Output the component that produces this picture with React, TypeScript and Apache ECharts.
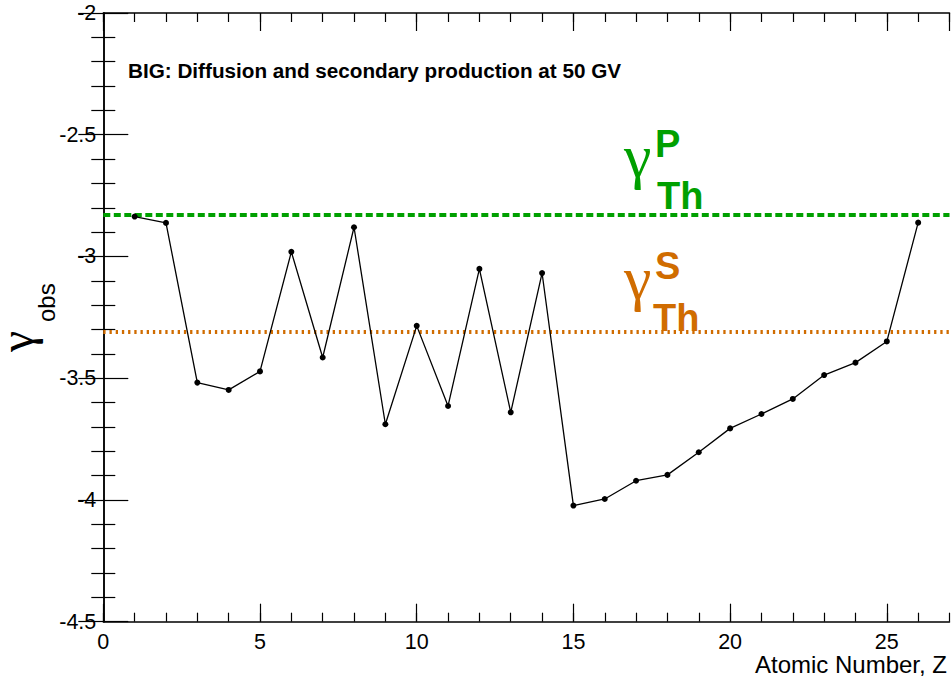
import React, { useEffect, useRef } from "react";
import * as echarts from "echarts";

const atomicNumbers = [1, 2, 3, 4, 5, 6, 7, 8, 9, 10, 11, 12, 13, 14, 15, 16, 17, 18, 19, 20, 21, 22, 23, 24, 25, 26];
const gammaObs = [
  -2.836, -2.862, -3.518, -3.548, -3.472, -2.981, -3.415, -2.88, -3.689, -3.285, -3.614, -3.051, -3.64,
  -3.068, -4.023, -3.996, -3.921, -3.897, -3.804, -3.706, -3.647, -3.585, -3.487, -3.436, -3.349, -2.861,
];
const gammaThP = -2.83;
const gammaThS = -3.31;
const xRange = [0, 27];
const yRange = [-4.5, -2];
const titleText = "BIG: Diffusion and secondary production at 50 GV";
const xAxisTitle = "Atomic Number, Z";
const pLabel = ["γ", "P", "Th"];
const sLabel = ["γ", "S", "Th"];
const yTitle = ["γ", "obs"];

const GREEN = "#00a000";
const ORANGE = "#d06c00";
const SANS = "'Liberation Sans', Arial, Helvetica, sans-serif";
const SERIF = "'Liberation Serif', 'Times New Roman', serif";

export default function App() {
  const ref = useRef<HTMLDivElement>(null);

  useEffect(() => {
    const chart = echarts.init(ref.current!, null, { renderer: "svg" });
    const axisLine = { show: true, lineStyle: { color: "#000", width: 1.5 } };
    const grid = { left: 103.3, top: 13, width: 846.2, height: 608.7, containLabel: false };

    const xBase = { type: "value" as const, min: xRange[0], max: xRange[1], splitLine: { show: false } };
    const yBase = { type: "value" as const, min: yRange[0], max: yRange[1], splitLine: { show: false } };
    const tickStyle = { color: "#000", width: 1.2 };

    const option = {
      animation: false,
      backgroundColor: "#fff",
      grid,
      xAxis: [
        {
          ...xBase,
          position: "bottom",
          interval: 5,
          axisLine,
          axisTick: { show: true, inside: true, length: 18, lineStyle: tickStyle },
          axisLabel: {
            show: true,
            showMaxLabel: false,
            margin: 9,
            color: "#000",
            fontFamily: SANS,
            fontSize: 21.5,
          },
        },
        {
          ...xBase,
          position: "bottom",
          offset: 0,
          interval: 1,
          axisLine: { show: false },
          axisTick: { show: true, inside: true, length: 9, lineStyle: tickStyle },
          axisLabel: { show: false },
        },
        {
          ...xBase,
          position: "top",
          offset: 0,
          interval: 5,
          axisLine,
          axisTick: { show: true, inside: true, length: 18, lineStyle: tickStyle },
          axisLabel: { show: false },
        },
        {
          ...xBase,
          position: "top",
          offset: 0,
          interval: 1,
          axisLine: { show: false },
          axisTick: { show: true, inside: true, length: 9, lineStyle: tickStyle },
          axisLabel: { show: false },
        },
      ],
      yAxis: [
        {
          ...yBase,
          position: "left",
          interval: 0.5,
          axisLine,
          axisTick: { show: true, inside: true, length: 25, lineStyle: tickStyle },
          minorTick: { show: true, splitNumber: 5, length: 12, lineStyle: tickStyle },
          axisLabel: {
            show: true,
            margin: 7,
            color: "#000",
            fontFamily: SANS,
            fontSize: 21.5,
          },
        },
        {
          ...yBase,
          position: "right",
          offset: 0,
          interval: 0.5,
          axisLine,
          axisTick: { show: true, inside: true, length: 25, lineStyle: tickStyle },
          minorTick: { show: true, splitNumber: 5, length: 12, lineStyle: tickStyle },
          axisLabel: { show: false },
        },
      ],
      series: [
        {
          type: "line",
          xAxisIndex: 0,
          yAxisIndex: 0,
          silent: true,
          symbol: "none",
          data: [
            [xRange[0], gammaThP],
            [xRange[1], gammaThP],
          ],
          lineStyle: { color: GREEN, width: 4, type: [7, 3.5] },
          z: 2,
        },
        {
          type: "line",
          xAxisIndex: 0,
          yAxisIndex: 0,
          silent: true,
          symbol: "none",
          data: [
            [xRange[0], gammaThS],
            [xRange[1], gammaThS],
          ],
          lineStyle: { color: ORANGE, width: 4, type: [2.3, 3.9] },
          z: 2,
        },
        {
          type: "line",
          xAxisIndex: 0,
          yAxisIndex: 0,
          data: atomicNumbers.map((z, i) => [z, gammaObs[i]]),
          symbol: "circle",
          symbolSize: 6,
          itemStyle: { color: "#000" },
          lineStyle: { color: "#000", width: 1.3 },
          z: 3,
        },
      ],
      graphic: [
        {
          type: "text",
          x: 128,
          y: 70,
          style: {
            text: titleText,
            fontFamily: SANS,
            fontWeight: "bold",
            fontSize: 20.7,
            fill: "#000",
            align: "left",
            verticalAlign: "middle",
          },
        },
        {
          type: "text",
          x: 947,
          y: 664.5,
          style: {
            text: xAxisTitle,
            fontFamily: SANS,
            fontSize: 24,
            lineHeight: 20,
            fill: "#000",
            align: "right",
            verticalAlign: "middle",
          },
        },
        // gamma_Th^P label
        { type: "text", x: 624, y: 155.5, style: { text: pLabel[0], fontFamily: SERIF, fontSize: 62, lineHeight: 46, fill: GREEN, align: "left", verticalAlign: "middle" } },
        { type: "text", x: 655, y: 144, style: { text: pLabel[1], fontFamily: SANS, fontWeight: "bold", fontSize: 38, fill: GREEN, align: "left", verticalAlign: "middle" } },
        { type: "text", x: 657, y: 196, style: { text: pLabel[2], fontFamily: SANS, fontWeight: "bold", fontSize: 38, fill: GREEN, align: "left", verticalAlign: "middle" } },
        // gamma_Th^S label
        { type: "text", x: 624, y: 277.5, style: { text: sLabel[0], fontFamily: SERIF, fontSize: 62, lineHeight: 46, fill: ORANGE, align: "left", verticalAlign: "middle" } },
        { type: "text", x: 655, y: 266, style: { text: sLabel[1], fontFamily: SANS, fontWeight: "bold", fontSize: 38, fill: ORANGE, align: "left", verticalAlign: "middle" } },
        { type: "text", x: 653, y: 318, style: { text: sLabel[2], fontFamily: SANS, fontWeight: "bold", fontSize: 38, fill: ORANGE, align: "left", verticalAlign: "middle" } },
        // y-axis title gamma_obs
        {
          type: "group",
          x: 0,
          y: 352,
          rotation: Math.PI / 2,
          children: [
            { type: "text", x: 0, y: 16, style: { text: yTitle[0], fontFamily: SERIF, fontSize: 48, lineHeight: 30, fill: "#000", align: "left", verticalAlign: "middle" } },
            { type: "text", x: 30, y: 46.7, style: { text: yTitle[1], fontFamily: SANS, fontSize: 24, fill: "#000", align: "left", verticalAlign: "middle" } },
          ],
        },
      ],
    };

    chart.setOption(option as any);
    return () => chart.dispose();
  }, []);

  return (
    <div
      ref={ref}
      style={{ position: "fixed", left: 0, top: 0, width: 952, height: 681, background: "#fff" }}
    />
  );
}
